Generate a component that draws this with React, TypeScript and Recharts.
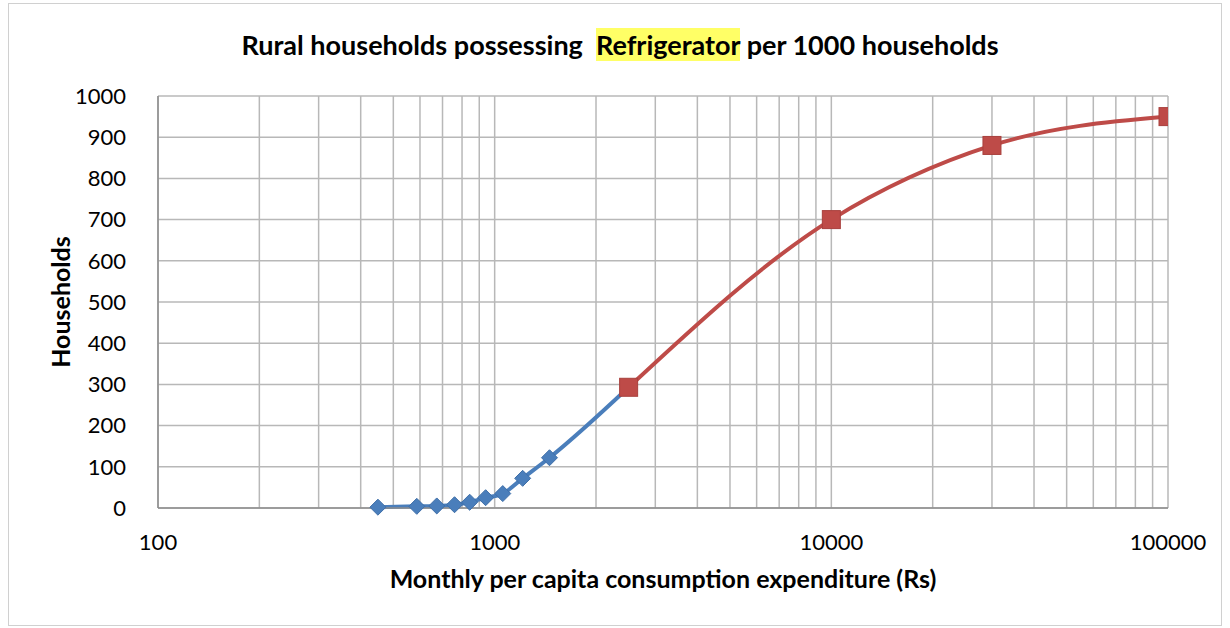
import { CartesianGrid, Line, LineChart, XAxis, YAxis } from "recharts";

const blueExpenditure = [450, 587, 673, 760, 843, 940, 1057, 1211, 1455, 2500];
const blueHouseholds = [2, 4, 5, 8, 14, 25, 35, 72, 122, 293];
const redExpenditure = [2500, 10000, 30000, 100000];
const redHouseholds = [293, 700, 880, 950];

const decadeTicks = [100, 1000, 10000, 100000];
const minorTicks = [
  100, 200, 300, 400, 500, 600, 700, 800, 900,
  1000, 2000, 3000, 4000, 5000, 6000, 7000, 8000, 9000,
  10000, 20000, 30000, 40000, 50000, 60000, 70000, 80000, 90000,
  100000,
];
const yTicks = [0, 100, 200, 300, 400, 500, 600, 700, 800, 900, 1000];

const blueData = blueExpenditure.map((x, i) => ({ x, y: blueHouseholds[i] }));
const redData = redExpenditure.map((x, i) => ({ x, y: redHouseholds[i] }));

const FONT = "Lato, 'Liberation Sans', sans-serif";

function Diamond(props: any) {
  const { cx, cy, index } = props;
  if (cx == null || cy == null || index === blueData.length - 1) return <g key={index} />;
  const r = 8;
  return (
    <polygon
      key={index}
      points={`${cx},${cy - r} ${cx + r},${cy} ${cx},${cy + r} ${cx - r},${cy}`}
      fill="#4a7ebb"
      stroke="#3f6fa8"
      strokeWidth={1}
    />
  );
}

function Square(props: any) {
  const { cx, cy, index } = props;
  if (cx == null || cy == null) return <g key={index} />;
  const s = 9;
  return <rect key={index} x={cx - s} y={cy - s} width={s * 2} height={s * 2} fill="#be4b48" stroke="#a8403d" strokeWidth={1} />;
}

export default function App() {
  return (
    <div style={{ position: "absolute", left: 0, top: 0, width: 1230, height: 628, background: "#fff", fontFamily: FONT }}>
      <div
        style={{
          position: "absolute",
          left: 8,
          top: 3,
          width: 1212,
          height: 621,
          border: "1px solid #d0d0d0",
        }}
      />
      <div
        style={{
          position: "absolute",
          left: 0,
          width: 1240,
          top: 29,
          textAlign: "center",
          fontWeight: 700,
          fontSize: 27,
          lineHeight: "32px",
          color: "#000",
        }}
      >
        Rural households possessing&nbsp; <span style={{ background: "#ffff66" }}>Refrigerator</span> per 1000 households
      </div>
      <div
        style={{
          position: "absolute",
          left: 158,
          width: 1010,
          top: 563,
          textAlign: "center",
          fontWeight: 700,
          fontSize: 25,
          lineHeight: "30px",
          color: "#000",
        }}
      >
        Monthly per capita consumption expenditure (Rs)
      </div>
      <div
        style={{
          position: "absolute",
          left: 60,
          top: 302,
          transform: "translate(-50%, -50%) rotate(-90deg)",
          fontWeight: 700,
          fontSize: 25,
          lineHeight: "30px",
          color: "#000",
          whiteSpace: "nowrap",
        }}
      >
        Households
      </div>
      <div style={{ position: "absolute", left: 0, top: 0 }}>
        <LineChart width={1230} height={628} margin={{ top: 96, right: 62, bottom: 60, left: 98 }}>
          <CartesianGrid stroke="#b8b8b8" strokeWidth={1.5} />
          <XAxis
            type="number"
            dataKey="x"
            scale="log"
            domain={[100, 100000]}
            ticks={minorTicks}
            allowDataOverflow
            interval={0}
            tickFormatter={(v: number) => (decadeTicks.includes(v) ? String(v) : "")}
            tickLine={false}
            axisLine={{ stroke: "#8c8c8c", strokeWidth: 1.5 }}
            tick={{ fill: "#000", fontSize: 22, fontFamily: FONT }}
            tickMargin={20}
            height={60}
          />
          <YAxis
            type="number"
            domain={[0, 1000]}
            ticks={yTicks}
            interval={0}
            tickLine={false}
            axisLine={{ stroke: "#8c8c8c", strokeWidth: 1.5 }}
            tick={{ fill: "#000", fontSize: 22, fontFamily: FONT }}
            tickMargin={26}
            width={60}
          />
          <Line
            data={blueData}
            dataKey="y"
            type="monotone"
            stroke="#4a7ebb"
            strokeWidth={4}
            dot={<Diamond />}
            activeDot={false}
            isAnimationActive={false}
          />
          <Line
            data={redData}
            dataKey="y"
            type="monotone"
            stroke="#be4b48"
            strokeWidth={4}
            dot={<Square />}
            activeDot={false}
            isAnimationActive={false}
          />
        </LineChart>
      </div>
    </div>
  );
}
